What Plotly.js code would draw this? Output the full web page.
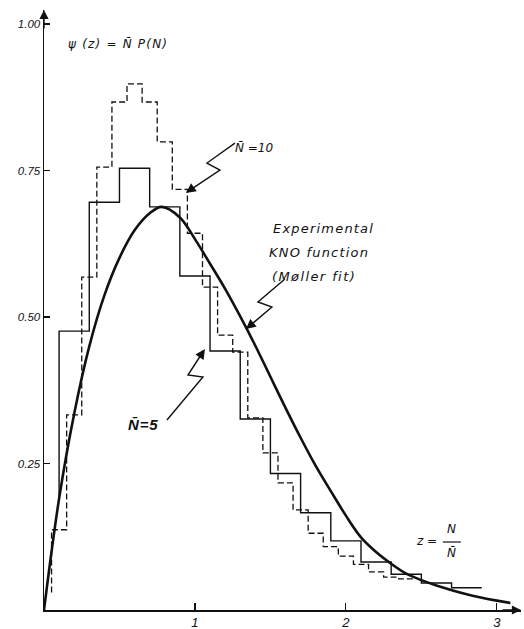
<!DOCTYPE html>
<html>
<head>
<meta charset="utf-8">
<script src="https://cdn.plot.ly/plotly-3.0.1.min.js"></script>
<style>html,body{margin:0;padding:0;background:#fff;}#chart{width:524px;height:629px;}</style>
</head>
<body>
<div id="chart"></div>
<script>
// ---- data ----
// N̄ = 5 histogram (bin width 0.2 in z), bin centres and heights
const zSolid = [0.2, 0.4, 0.6, 0.8, 1.0, 1.2, 1.4, 1.6, 1.8, 2.0, 2.2, 2.4, 2.6, 2.8];
const psiSolid = [0.476, 0.696, 0.754, 0.688, 0.570, 0.442, 0.326, 0.233, 0.166, 0.118, 0.082, 0.061, 0.046, 0.038];
const solidWidth = 0.2;
const solidStart = 0.19;
// N̄ = 10 histogram (bin width 0.1 in z)
const zDashed = [0.1, 0.2, 0.3, 0.4, 0.5, 0.6, 0.7, 0.8, 0.9, 1.0, 1.1, 1.2, 1.3, 1.4, 1.5, 1.6, 1.7, 1.8, 1.9, 2.0, 2.1, 2.2, 2.3, 2.4];
const psiDashed = [0.137, 0.333, 0.568, 0.756, 0.867, 0.898, 0.867, 0.799, 0.718, 0.643, 0.551, 0.469, 0.440, 0.328, 0.268, 0.217, 0.171, 0.131, 0.108, 0.092, 0.078, 0.065, 0.056, 0.053];
const dashedWidth = 0.1;
const dashedStart = 0.03;
// Experimental KNO function (Møller fit)
const zCurve = [0, 0.1, 0.2, 0.3, 0.4, 0.5, 0.6, 0.7, 0.78, 0.9, 1.0, 1.1, 1.2, 1.3, 1.4, 1.5, 1.6, 1.7, 1.8, 1.9, 2.0, 2.1, 2.2, 2.3, 2.4, 2.5, 2.6, 2.8, 3.0, 3.09];
const psiCurve = [0, 0.190, 0.335, 0.450, 0.537, 0.601, 0.648, 0.677, 0.688, 0.670, 0.633, 0.591, 0.548, 0.501, 0.451, 0.398, 0.345, 0.294, 0.246, 0.203, 0.161, 0.124, 0.099, 0.079, 0.062, 0.051, 0.042, 0.027, 0.016, 0.012];
// axis ticks
const xTicks = [1, 2, 3];
const xTickText = ['1', '2', '3'];
const yTicks = [0.25, 0.5, 0.75, 1.0];
const yTickText = ['0.25', '0.50', '0.75', '1.00'];

// ---- helpers ----
function steps(centres, vals, w, start) {
  const xs = [centres[0] - w / 2], ys = [start];
  for (let i = 0; i < centres.length; i++) {
    xs.push(centres[i] - w / 2, centres[i] + w / 2);
    ys.push(vals[i], vals[i]);
  }
  return {x: xs, y: ys};
}
const X0 = 44, XS = 151, Y0 = 610, YS = 586;
const dx = p => (p - X0) / XS;
const dy = p => (Y0 - p) / YS;
function pathFrom(pts) {
  return pts.map((p, i) => (i ? 'L' : 'M') + dx(p[0]).toFixed(4) + ',' + dy(p[1]).toFixed(4)).join(' ');
}

const sS = steps(zSolid, psiSolid, solidWidth, solidStart);
const sD = steps(zDashed, psiDashed, dashedWidth, dashedStart);

const FONT = 'Liberation Sans, Arial, sans-serif';
const TFONT = 'DejaVu Sans, sans-serif';
const data = [
  {x: sD.x, y: sD.y, mode: 'lines', line: {color: '#111', width: 1.3, dash: '6px,3px'}, hoverinfo: 'skip'},
  {x: sS.x, y: sS.y, mode: 'lines', line: {color: '#111', width: 1.4}, hoverinfo: 'skip'},
  {x: zCurve, y: psiCurve, mode: 'lines', line: {color: '#111', width: 2.6, shape: 'spline', smoothing: 1}, hoverinfo: 'skip'}
];

const zig = [
  [[235,143],[207,163],[220,170],[193,188]],
  [[285,279],[258,302],[272,307],[252,324]],
  [[167,420],[203,377],[188,375],[201,355]]
];
const tips = [[[193,188],[186,193]], [[252,324],[246,329]], [[201,355],[205,349]]];

const shapes = zig.map(p => ({type: 'path', path: pathFrom(p), xref: 'x', yref: 'y', line: {color: '#111', width: 1.4}}));
// fraction bar of z = N / N̄
shapes.push({type: 'line', xref: 'x', yref: 'y', x0: dx(443), x1: dx(461), y0: dy(542), y1: dy(542), line: {color: '#111', width: 1.2}});

const sp = (t, ls) => '<span style="letter-spacing:' + ls + 'px">' + t + '</span>';
const txt = (px, py, text, size, anchor, fam) => ({
  x: dx(px), y: dy(py), xref: 'x', yref: 'y', text: text, showarrow: false,
  xanchor: anchor || 'left', yanchor: 'middle',
  font: {family: fam || TFONT, size: size, color: '#111', style: 'italic'}
});

const annotations = [
  txt(66, 44, sp('ψ (z) = N\u0304 P(N)', 1.2), 12),
  txt(233, 148, 'N\u0304 =10', 12),
  txt(271, 228, sp('Experimental', 1.2), 13),
  txt(267, 252, sp('KNO function', 1.2), 13),
  txt(270, 276, sp('(M\u00f8ller fit)', 1.4), 13),
  txt(126, 424, sp('<b>N\u0304=5</b>', 0.8), 15, 'left', FONT),
  txt(414, 541, 'z =', 12),
  txt(452, 529, 'N', 12, 'center'),
  txt(452, 553, 'N\u0304', 12, 'center')
];
// arrowheads on zigzag pointers
tips.forEach(t => annotations.push({
  x: dx(t[1][0]), y: dy(t[1][1]), xref: 'x', yref: 'y', text: '', showarrow: true,
  ax: t[0][0] - t[1][0], ay: t[0][1] - t[1][1], axref: 'pixel', ayref: 'pixel',
  arrowhead: 2, arrowsize: 1.4, arrowwidth: 1.4, arrowcolor: '#111'
}));
// axis arrowheads (paper coordinates so they are not hidden)
annotations.push({x: 0, y: 1, xref: 'paper', yref: 'paper', text: '', showarrow: true, ax: 0, ay: 20,
  arrowhead: 2, arrowsize: 1.3, arrowwidth: 1.4, arrowcolor: '#111'});
annotations.push({x: 1, y: 0, xref: 'paper', yref: 'paper', text: '', showarrow: true, ax: -20, ay: 0,
  arrowhead: 2, arrowsize: 1.3, arrowwidth: 1.4, arrowcolor: '#111'});

const layout = {
  width: 524, height: 629,
  margin: {l: 44, r: 3, t: 10, b: 19},
  paper_bgcolor: '#fff', plot_bgcolor: '#fff',
  showlegend: false,
  xaxis: {range: [0, 3.16], showgrid: false, zeroline: false, showline: true, linecolor: '#111', linewidth: 1.5,
    tickvals: xTicks, ticktext: xTickText, ticks: 'inside', ticklen: 7, tickwidth: 1.2, tickcolor: '#111',
    tickfont: {family: FONT, size: 13, color: '#111', style: 'italic'}, fixedrange: true},
  yaxis: {range: [0, 1.024], showgrid: false, zeroline: false, showline: true, linecolor: '#111', linewidth: 1.5,
    tickvals: yTicks, ticktext: yTickText, ticks: 'inside', ticklen: 6, tickwidth: 1.2, tickcolor: '#111',
    tickfont: {family: FONT, size: 11.5, color: '#111', style: 'italic'}, fixedrange: true},
  shapes: shapes,
  annotations: annotations
};
Plotly.newPlot('chart', data, layout, {staticPlot: true, displayModeBar: false});
</script>
</body>
</html>
